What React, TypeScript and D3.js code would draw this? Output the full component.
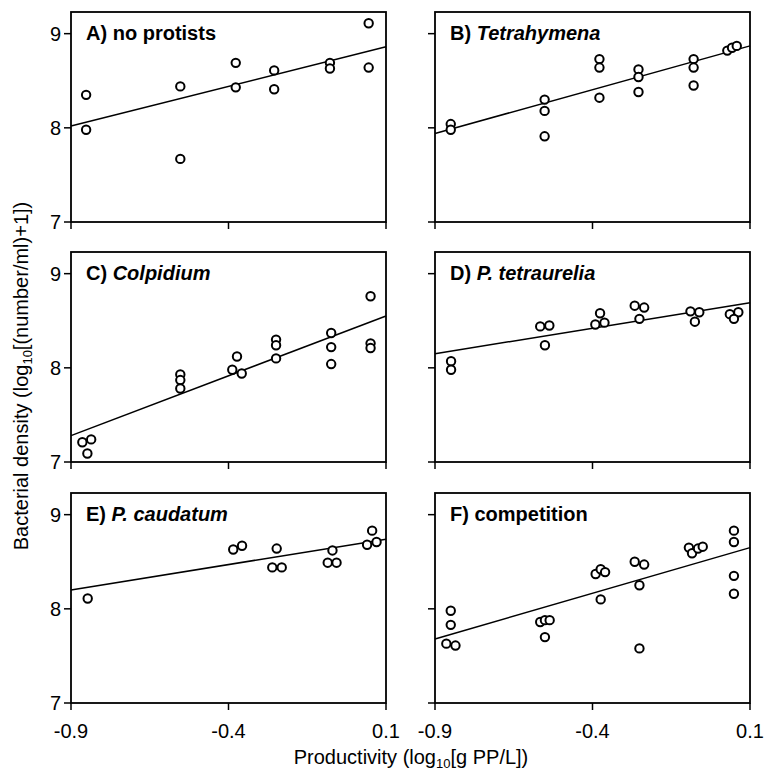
import { useEffect, useRef } from "react";
import * as d3 from "d3";

// Productivity (log10 g PP/L) and bacterial density
const noProtistsX = [-0.852, -0.852, -0.553, -0.553, -0.377, -0.377, -0.255, -0.255, -0.078, -0.078, 0.045, 0.045];
const noProtistsY = [8.35, 7.98, 8.44, 7.67, 8.69, 8.43, 8.61, 8.41, 8.69, 8.63, 9.11, 8.64];

const tetrahymenaX = [-0.85, -0.85, -0.552, -0.552, -0.552, -0.378, -0.378, -0.378, -0.254, -0.254, -0.254, -0.079, -0.079, -0.079, 0.028, 0.043, 0.058];
const tetrahymenaY = [8.04, 7.98, 8.3, 8.18, 7.91, 8.73, 8.64, 8.32, 8.62, 8.54, 8.38, 8.73, 8.64, 8.45, 8.82, 8.85, 8.87];

const colpidiumX = [-0.864, -0.836, -0.848, -0.553, -0.553, -0.553, -0.388, -0.373, -0.358, -0.249, -0.249, -0.249, -0.074, -0.074, -0.074, 0.051, 0.051, 0.051];
const colpidiumY = [7.21, 7.24, 7.09, 7.93, 7.87, 7.78, 7.98, 8.12, 7.94, 8.3, 8.24, 8.1, 8.37, 8.22, 8.04, 8.76, 8.26, 8.21];

const tetraureliaX = [-0.849, -0.849, -0.566, -0.537, -0.551, -0.391, -0.376, -0.362, -0.266, -0.236, -0.251, -0.089, -0.061, -0.075, 0.036, 0.063, 0.049];
const tetraureliaY = [8.07, 7.98, 8.44, 8.45, 8.24, 8.46, 8.58, 8.48, 8.66, 8.64, 8.52, 8.6, 8.59, 8.49, 8.57, 8.59, 8.52];

const caudatumX = [-0.847, -0.385, -0.357, -0.247, -0.261, -0.231, -0.07, -0.085, -0.057, 0.04, 0.056, 0.07];
const caudatumY = [8.11, 8.63, 8.67, 8.64, 8.44, 8.44, 8.62, 8.49, 8.49, 8.68, 8.83, 8.71];

const competitionX = [-0.85, -0.85, -0.864, -0.835, -0.566, -0.551, -0.536, -0.551, -0.39, -0.374, -0.36, -0.374, -0.266, -0.236, -0.251, -0.251, -0.094, -0.084, -0.065, -0.05, 0.049, 0.049, 0.049, 0.049];
const competitionY = [7.98, 7.83, 7.63, 7.61, 7.86, 7.88, 7.88, 7.7, 8.37, 8.42, 8.39, 8.1, 8.5, 8.47, 8.25, 7.58, 8.65, 8.59, 8.64, 8.66, 8.83, 8.71, 8.35, 8.16];

// regression line: fitted density at x = -0.9 and at x = 0.1
const fitStart = [8.02, 7.94, 7.28, 8.15, 8.2, 7.68];
const fitEnd = [8.86, 8.87, 8.55, 8.69, 8.74, 8.65];

const panelLetters = ["A)", "B)", "C)", "D)", "E)", "F)"];
const panelNames = ["no protists", "Tetrahymena", "Colpidium", "P. tetraurelia", "P. caudatum", "competition"];
const panelItalic = [false, true, true, true, true, false];

const xTicks = [-0.9, -0.4, 0.1];
const yTicks = [7, 8, 9];

const panelX = [noProtistsX, tetrahymenaX, colpidiumX, tetraureliaX, caudatumX, competitionX];
const panelY = [noProtistsY, tetrahymenaY, colpidiumY, tetraureliaY, caudatumY, competitionY];

function App() {
  const ref = useRef(null);

  useEffect(() => {
    const width = 768;
    const height = 776;
    const font = "'Liberation Sans', Arial, sans-serif";

    // layout of the 2 x 3 grid
    const colLeft = [71, 435];
    const rowTop = [12, 252, 493];
    const panelW = 315;
    const panelH = 210;
    const tickLen = 7;

    const svg = d3
      .select(ref.current)
      .attr("width", width)
      .attr("height", height)
      .style("font-family", font);

    svg.selectAll("*").remove();

    svg.append("rect").attr("width", width).attr("height", height).attr("fill", "white");

    panelNames.forEach((name, i) => {
      const col = i % 2;
      const row = Math.floor(i / 2);
      const left = colLeft[col];
      const top = rowTop[row];

      const x = d3.scaleLinear([-0.9, 0.1], [left, left + panelW]);
      const y = d3.scaleLinear([7, 9.23], [top + panelH, top]);

      const g = svg.append("g");

      // cadre du panneau
      g.append("rect")
        .attr("x", left)
        .attr("y", top)
        .attr("width", panelW)
        .attr("height", panelH)
        .attr("fill", "none")
        .attr("stroke", "black")
        .attr("stroke-width", 1.8);

      // y ticks
      yTicks.forEach((t) => {
        g.append("line")
          .attr("x1", left - tickLen)
          .attr("x2", left)
          .attr("y1", y(t))
          .attr("y2", y(t))
          .attr("stroke", "black")
          .attr("stroke-width", 1.5);
        if (col === 0) {
          g.append("text")
            .attr("x", left - tickLen - 3)
            .attr("y", y(t))
            .attr("dy", "0.36em")
            .attr("text-anchor", "end")
            .attr("font-size", "20px")
            .text(t);
        }
      });

      // x ticks
      xTicks.forEach((t) => {
        g.append("line")
          .attr("x1", x(t))
          .attr("x2", x(t))
          .attr("y1", top + panelH)
          .attr("y2", top + panelH + tickLen)
          .attr("stroke", "black")
          .attr("stroke-width", 1.5);
        if (row === 2) {
          g.append("text")
            .attr("x", x(t))
            .attr("y", top + panelH + 35)
            .attr("text-anchor", "middle")
            .attr("font-size", "20px")
            .text(t === 0.1 ? "0.1" : String(t));
        }
      });

      // droite de régression
      g.append("line")
        .attr("x1", x(-0.9))
        .attr("y1", y(fitStart[i]))
        .attr("x2", x(0.1))
        .attr("y2", y(fitEnd[i]))
        .attr("stroke", "black")
        .attr("stroke-width", 1.5);

      // points
      const xs = panelX[i];
      const ys = panelY[i];
      xs.forEach((v, k) => {
        g.append("circle")
          .attr("cx", x(v))
          .attr("cy", y(ys[k]))
          .attr("r", 4.2)
          .attr("fill", "white")
          .attr("stroke", "black")
          .attr("stroke-width", 2);
      });

      // titre du panneau
      const title = g
        .append("text")
        .attr("x", left + 15)
        .attr("y", top + 28)
        .attr("font-size", "20px")
        .attr("font-weight", "bold");
      title.append("tspan").text(panelLetters[i] + " ");
      title
        .append("tspan")
        .attr("font-style", panelItalic[i] ? "italic" : "normal")
        .text(name);
    });

    // axis titles
    const yLabel = svg
      .append("text")
      .attr("transform", "translate(28,376) rotate(-90)")
      .attr("text-anchor", "middle")
      .attr("font-size", "20px");
    yLabel.append("tspan").text("Bacterial density (log");
    yLabel.append("tspan").attr("font-size", "13px").attr("dy", 4).text("10");
    yLabel.append("tspan").attr("dy", -4).text("[(number/ml)+1])");

    const xLabel = svg
      .append("text")
      .attr("x", 411)
      .attr("y", 764)
      .attr("text-anchor", "middle")
      .attr("font-size", "20px");
    xLabel.append("tspan").text("Productivity (log");
    xLabel.append("tspan").attr("font-size", "13px").attr("dy", 4).text("10");
    xLabel.append("tspan").attr("dy", -4).text("[g PP/L])");
  }, []);

  return (
    <svg
      ref={ref}
      style={{ position: "absolute", left: 0, top: 0, display: "block" }}
    ></svg>
  );
}

export default App;
